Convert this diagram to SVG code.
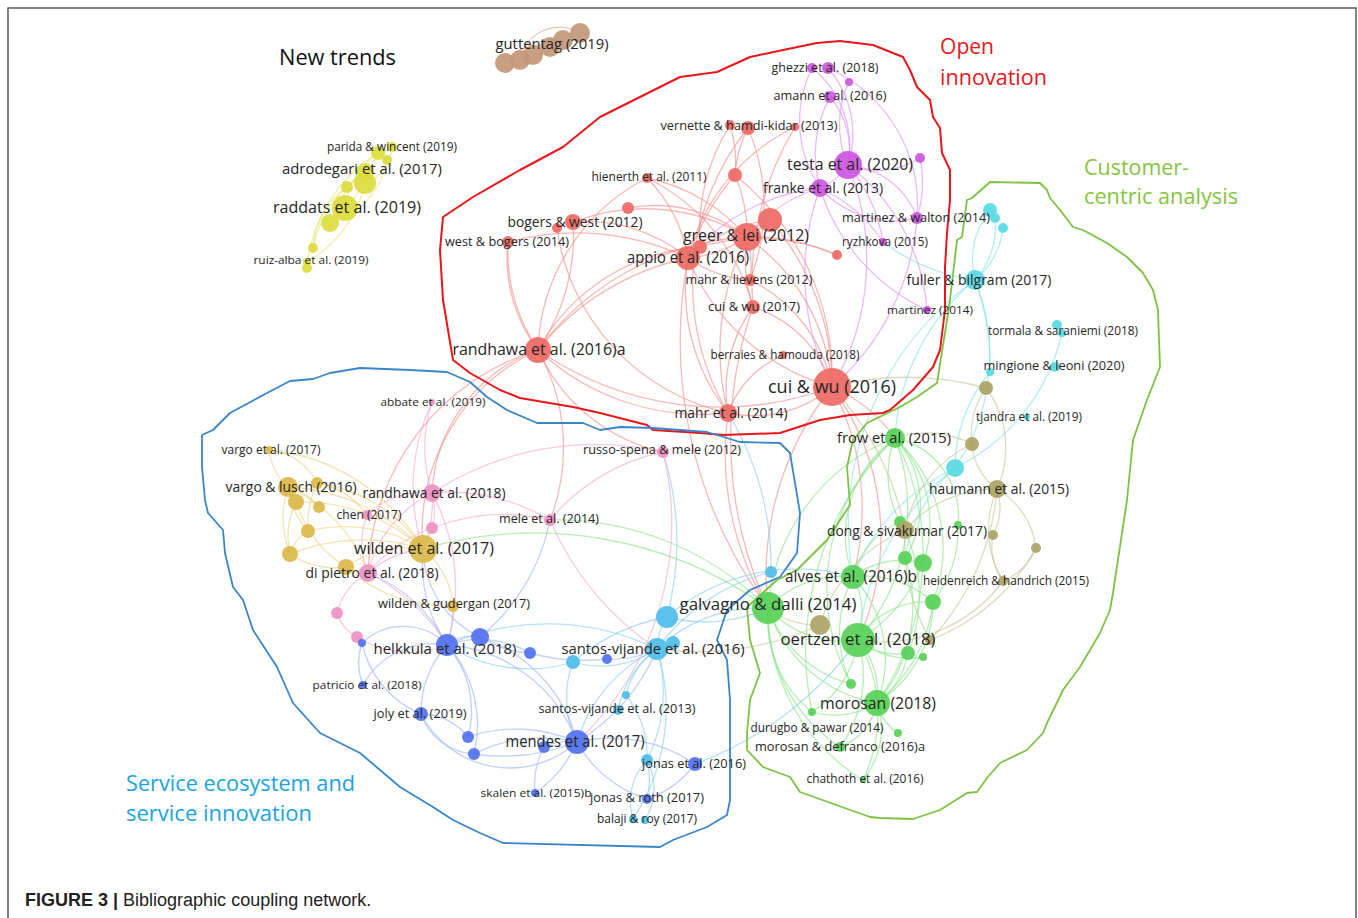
<svg xmlns="http://www.w3.org/2000/svg" width="1358" height="918" viewBox="0 0 1358 918">
<style>
.e path{fill:none;stroke-width:1.3;stroke-opacity:.6}
.er path{stroke:#f28b86}.ep path{stroke:#df8cef}.ec path{stroke:#7fe3ea}.eo path{stroke:#c9c196}
.eg path{stroke:#86e486}.el path{stroke:#84cdee}.eb path{stroke:#9fb0f3}.ek path{stroke:#f2a9cf}
.ed path{stroke:#ecd07e}.ey path{stroke:#e4e46c}.ew path{stroke:#d4a68c}
.lb{font-family:"Open Sans","Liberation Sans",sans-serif;fill:#262626;text-anchor:middle}
.y{fill:#dcdc3e}.w{fill:#c4977a}.r{fill:#ee6a64}.p{fill:#cc56de}.c{fill:#58d9e2}.o{fill:#aba267}
.g{fill:#57d157}.k{fill:#ee92c2}.d{fill:#dbb84a}.b{fill:#5071ef}.l{fill:#4fbde9}
circle{fill-opacity:.92}
.hull{fill:none;stroke-linejoin:round}
.title{font-family:"Open Sans","Liberation Sans",sans-serif;font-size:22px}
</style>
<rect x="0" y="0" width="1358" height="918" fill="#fff"/>
<rect x="8" y="8" width="1348" height="930" fill="none" stroke="#5a5a5a" stroke-width="1.5"/>

<g id="connectors" class="e">
<g class="ey">
<path d="M378,153 A150,150 0 0,0 307,268"/><path d="M392,147 A150,150 0 0,0 330,223"/><path d="M365,172 A120,120 0 0,0 313,248"/>
<path d="M365,183 A120,120 0 0,1 307,262"/><path d="M378,153 A80,80 0 0,0 345,208"/><path d="M387,160 A80,80 0 0,1 330,223"/>
<path d="M365,172 A60,60 0 0,1 345,208"/><path d="M347,187 A80,80 0 0,0 313,248"/><path d="M392,147 A40,40 0 0,1 365,183"/>
</g>
<g class="ew">
<path d="M505,63 A40,40 0 0,1 550,47"/><path d="M520,60 A40,40 0 0,1 580,33"/><path d="M533,55 A40,40 0 0,0 563,40"/>
</g>
<g class="er">
<path d="M538,350 A280,280 0 0,1 747,237"/><path d="M538,350 A260,260 0 0,1 688,258"/><path d="M538,350 A200,200 0 0,0 573,222"/>
<path d="M538,350 A180,180 0 0,1 508,242"/><path d="M538,350 A200,200 0 0,1 647,178"/><path d="M538,350 A320,320 0 0,0 832,387"/>
<path d="M538,350 A240,240 0 0,0 728,413"/><path d="M538,350 A200,200 0 0,1 700,247"/><path d="M538,350 A200,200 0 0,0 423,549"/>
<path d="M538,350 A160,160 0 0,0 432,493"/><path d="M538,350 A180,180 0 0,0 663,452"/><path d="M538,350 A240,240 0 0,0 368,573"/>
<path d="M538,350 A200,200 0 0,1 550,520"/><path d="M508,242 A150,150 0 0,0 538,350"/><path d="M508,242 A260,260 0 0,1 688,258"/>
<path d="M573,222 A200,200 0 0,1 747,237"/><path d="M573,222 A160,160 0 0,1 688,258"/><path d="M557,228 A220,220 0 0,0 728,413"/>
<path d="M628,208 A150,150 0 0,1 747,237"/><path d="M647,178 A150,150 0 0,1 688,258"/><path d="M647,178 A180,180 0 0,1 747,237"/>
<path d="M647,178 A200,200 0 0,1 753,307"/><path d="M735,175 A120,120 0 0,1 748,128"/><path d="M735,175 A120,120 0 0,0 730,125"/>
<path d="M735,175 A150,150 0 0,1 747,237"/><path d="M735,175 A260,260 0 0,1 832,387"/><path d="M735,175 A250,250 0 0,0 688,258"/>
<path d="M748,128 A200,200 0 0,1 750,280"/><path d="M748,128 A250,250 0 0,0 728,413"/><path d="M730,125 A200,200 0 0,0 700,247"/>
<path d="M795,127 A200,200 0 0,0 688,258"/><path d="M795,127 A300,300 0 0,0 753,307"/><path d="M770,220 A120,120 0 0,1 747,237"/>
<path d="M770,220 A150,150 0 0,0 688,258"/><path d="M770,220 A250,250 0 0,1 832,387"/><path d="M747,237 A120,120 0 0,1 688,258"/>
<path d="M747,237 A200,200 0 0,1 832,387"/><path d="M747,237 A100,100 0 0,1 750,280"/><path d="M747,237 A150,150 0 0,0 753,307"/>
<path d="M747,237 A250,250 0 0,0 728,413"/><path d="M747,237 A200,200 0 0,1 837,255"/><path d="M688,258 A220,220 0 0,0 832,387"/>
<path d="M688,258 A200,200 0 0,0 728,413"/><path d="M688,258 A120,120 0 0,0 750,280"/><path d="M700,247 A200,200 0 0,1 837,255"/>
<path d="M753,307 A120,120 0 0,1 832,387"/><path d="M753,307 A140,140 0 0,0 728,413"/><path d="M750,280 A150,150 0 0,1 832,387"/>
<path d="M832,387 A120,120 0 0,1 728,413"/><path d="M783,355 A100,100 0 0,0 728,413"/><path d="M832,387 A150,150 0 0,1 895,438"/>
<path d="M832,387 A300,300 0 0,0 768,608"/><path d="M832,387 A260,260 0 0,1 853,577"/><path d="M832,387 A250,250 0 0,1 858,640"/>
<path d="M728,413 A300,300 0 0,0 768,608"/><path d="M753,307 A400,400 0 0,0 768,608"/><path d="M688,258 A450,450 0 0,0 768,608"/>
</g>
<g class="ep">
<path d="M848,165 A100,100 0 0,0 812,68"/><path d="M848,165 A100,100 0 0,0 828,68"/><path d="M848,165 A100,100 0 0,1 849,82"/>
<path d="M848,165 A80,80 0 0,0 830,97"/><path d="M848,165 A60,60 0 0,1 820,188"/><path d="M848,165 A80,80 0 0,0 920,158"/>
<path d="M848,165 A80,80 0 0,1 917,218"/><path d="M848,165 A200,200 0 0,1 927,310"/><path d="M848,165 A160,160 0 0,1 883,242"/>
<path d="M848,165 A250,250 0 0,1 832,387"/><path d="M820,188 A120,120 0 0,1 812,68"/><path d="M820,188 A120,120 0 0,1 830,97"/>
<path d="M820,188 A100,100 0 0,0 917,218"/><path d="M820,188 A150,150 0 0,1 883,242"/><path d="M820,188 A200,200 0 0,0 927,310"/>
<path d="M820,188 A250,250 0 0,0 832,387"/><path d="M820,188 A150,150 0 0,0 747,237"/><path d="M820,188 A200,200 0 0,0 688,258"/>
<path d="M920,158 A120,120 0 0,1 917,218"/><path d="M917,218 A250,250 0 0,1 832,387"/><path d="M828,68 A150,150 0 0,1 917,218"/>
</g>
<g class="ec">
<path d="M975,280 A80,80 0 0,1 990,210"/><path d="M975,280 A80,80 0 0,0 995,218"/><path d="M975,280 A80,80 0 0,0 1003,228"/>
<path d="M975,280 A200,200 0 0,1 955,468"/><path d="M975,280 A220,220 0 0,0 895,438"/><path d="M883,242 A200,200 0 0,0 975,280"/>
<path d="M1062,333 A200,200 0 0,1 955,468"/><path d="M990,372 A150,150 0 0,0 955,468"/><path d="M975,280 A250,250 0 0,1 990,372"/>
<path d="M955,468 A200,200 0 0,0 853,577"/><path d="M955,468 A250,250 0 0,0 858,640"/><path d="M955,468 A150,150 0 0,0 905,558"/>
<path d="M975,280 A300,300 0 0,0 853,577"/>
</g>
<g class="eo">
<path d="M986,388 A80,80 0 0,0 972,444"/><path d="M986,388 A100,100 0 0,1 997,489"/><path d="M986,388 A300,300 0 0,0 832,387"/>
<path d="M972,444 A60,60 0 0,0 997,489"/><path d="M972,444 A120,120 0 0,0 905,530"/><path d="M972,444 A100,100 0 0,0 895,438"/>
<path d="M997,489 A60,60 0 0,1 993,535"/><path d="M997,489 A80,80 0 0,1 1036,548"/><path d="M997,489 A100,100 0 0,0 1003,581"/>
<path d="M997,489 A120,120 0 0,0 905,530"/><path d="M1036,548 A60,60 0 0,1 1003,581"/><path d="M993,535 A60,60 0 0,0 1003,581"/>
<path d="M1003,581 A150,150 0 0,1 858,640"/><path d="M905,530 A150,150 0 0,0 820,625"/><path d="M820,625 A80,80 0 0,1 768,608"/>
<path d="M820,625 A300,300 0 0,1 657,649"/><path d="M905,530 A200,200 0 0,0 930,640"/><path d="M997,489 A250,250 0 0,1 930,640"/>
<path d="M1036,548 A200,200 0 0,1 930,640"/><path d="M905,530 A300,300 0 0,0 832,387"/>
</g>
<g class="eg">
<path d="M895,438 A120,120 0 0,0 853,577"/><path d="M895,438 A200,200 0 0,0 768,608"/><path d="M895,438 A200,200 0 0,1 858,640"/>
<path d="M895,438 A260,260 0 0,1 877,703"/><path d="M895,438 A100,100 0 0,1 905,558"/><path d="M895,438 A120,120 0 0,1 923,563"/>
<path d="M895,438 A150,150 0 0,1 933,602"/><path d="M895,438 A200,200 0 0,0 851,684"/><path d="M895,438 A300,300 0 0,0 812,712"/>
<path d="M895,438 A80,80 0 0,1 958,525"/><path d="M895,438 A100,100 0 0,0 900,522"/><path d="M853,577 A100,100 0 0,0 768,608"/>
<path d="M853,577 A80,80 0 0,1 858,640"/><path d="M853,577 A120,120 0 0,1 877,703"/><path d="M853,577 A80,80 0 0,1 923,563"/>
<path d="M853,577 A100,100 0 0,1 933,602"/><path d="M853,577 A120,120 0 0,0 851,684"/><path d="M853,577 A80,80 0 0,1 900,522"/>
<path d="M768,608 A100,100 0 0,0 858,640"/><path d="M768,608 A140,140 0 0,0 877,703"/><path d="M768,608 A120,120 0 0,0 851,684"/>
<path d="M768,608 A120,120 0 0,0 812,712"/><path d="M768,608 A200,200 0 0,0 863,780"/><path d="M768,608 A160,160 0 0,0 840,747"/>
<path d="M768,608 A300,300 0 0,0 550,520"/><path d="M768,608 A400,400 0 0,0 423,549"/><path d="M858,640 A80,80 0 0,1 877,703"/>
<path d="M858,640 A60,60 0 0,0 908,653"/><path d="M858,640 A80,80 0 0,0 923,657"/><path d="M858,640 A80,80 0 0,1 933,602"/>
<path d="M858,640 A120,120 0 0,1 840,747"/><path d="M858,640 A100,100 0 0,1 812,712"/><path d="M858,640 A150,150 0 0,1 863,780"/>
<path d="M877,703 A50,50 0 0,0 898,733"/><path d="M877,703 A60,60 0 0,1 840,747"/><path d="M877,703 A80,80 0 0,1 863,780"/>
<path d="M877,703 A80,80 0 0,1 812,712"/><path d="M877,703 A80,80 0 0,0 908,653"/><path d="M877,703 A150,150 0 0,0 933,602"/>
<path d="M900,522 A150,150 0 0,1 908,653"/><path d="M905,558 A150,150 0 0,1 877,703"/><path d="M923,563 A150,150 0 0,1 858,640"/>
<path d="M933,602 A120,120 0 0,1 877,703"/><path d="M958,525 A120,120 0 0,1 933,602"/>
</g>
<g class="el">
<path d="M657,649 A60,60 0 0,1 667,617"/><path d="M657,649 A40,40 0 0,0 673,643"/><path d="M657,649 A100,100 0 0,1 573,662"/>
<path d="M657,649 A80,80 0 0,0 626,695"/><path d="M657,649 A100,100 0 0,0 618,710"/><path d="M657,649 A150,150 0 0,0 577,742"/>
<path d="M657,649 A150,150 0 0,1 647,760"/><path d="M657,649 A200,200 0 0,1 633,819"/><path d="M657,649 A150,150 0 0,1 768,608"/>
<path d="M657,649 A200,200 0 0,1 771,572"/><path d="M657,649 A250,250 0 0,0 447,645"/><path d="M667,617 A150,150 0 0,0 768,608"/>
<path d="M667,617 A200,200 0 0,1 853,577"/><path d="M667,617 A200,200 0 0,0 573,662"/><path d="M667,617 A300,300 0 0,0 663,452"/>
<path d="M573,662 A150,150 0 0,1 447,645"/><path d="M573,662 A100,100 0 0,0 577,742"/><path d="M626,695 A100,100 0 0,1 647,760"/>
<path d="M647,760 A60,60 0 0,1 645,820"/><path d="M647,760 A60,60 0 0,0 633,819"/><path d="M647,760 A80,80 0 0,1 647,799"/>
<path d="M771,572 A300,300 0 0,0 728,413"/><path d="M695,764 A350,350 0 0,0 858,640"/>
</g>
<g class="eb">
<path d="M447,645 A40,40 0 0,1 480,637"/><path d="M447,645 A60,60 0 0,0 362,643"/><path d="M447,645 A80,80 0 0,0 363,685"/>
<path d="M447,645 A100,100 0 0,0 421,714"/><path d="M447,645 A150,150 0 0,1 577,742"/><path d="M447,645 A100,100 0 0,1 468,737"/>
<path d="M447,645 A120,120 0 0,1 474,754"/><path d="M447,645 A100,100 0 0,1 530,653"/><path d="M447,645 A150,150 0 0,1 423,549"/>
<path d="M447,645 A150,150 0 0,0 368,573"/><path d="M447,645 A120,120 0 0,0 453,606"/><path d="M480,637 A100,100 0 0,1 423,549"/>
<path d="M480,637 A150,150 0 0,1 577,742"/><path d="M480,637 A100,100 0 0,0 530,653"/><path d="M480,637 A200,200 0 0,0 550,520"/>
<path d="M530,653 A200,200 0 0,0 607,659"/><path d="M607,659 A100,100 0 0,0 657,649"/><path d="M577,742 A100,100 0 0,1 421,714"/>
<path d="M577,742 A60,60 0 0,0 544,747"/><path d="M577,742 A150,150 0 0,0 468,737"/><path d="M577,742 A150,150 0 0,0 474,754"/>
<path d="M577,742 A150,150 0 0,1 695,764"/><path d="M577,742 A120,120 0 0,0 647,799"/><path d="M577,742 A120,120 0 0,1 535,793"/>
<path d="M577,742 A200,200 0 0,0 657,649"/><path d="M421,714 A60,60 0 0,1 468,737"/><path d="M421,714 A60,60 0 0,0 474,754"/>
<path d="M695,764 A100,100 0 0,1 647,799"/><path d="M535,793 A80,80 0 0,1 544,747"/><path d="M363,685 A60,60 0 0,1 362,643"/>
<path d="M362,643 A100,100 0 0,0 421,714"/><path d="M474,754 A200,200 0 0,0 577,742"/>
</g>
<g class="ek">
<path d="M432,493 A120,120 0 0,1 423,549"/><path d="M432,493 A80,80 0 0,0 367,515"/><path d="M432,493 A60,60 0 0,1 432,528"/>
<path d="M432,493 A120,120 0 0,0 368,573"/><path d="M432,493 A150,150 0 0,1 432,402"/><path d="M432,493 A200,200 0 0,1 550,520"/>
<path d="M432,493 A300,300 0 0,1 663,452"/><path d="M432,493 A200,200 0 0,1 447,645"/><path d="M368,573 A60,60 0 0,0 337,613"/>
<path d="M337,613 A40,40 0 0,0 357,637"/><path d="M368,573 A100,100 0 0,1 423,549"/><path d="M368,573 A80,80 0 0,1 367,515"/>
<path d="M357,637 A100,100 0 0,0 447,645"/><path d="M432,402 A200,200 0 0,0 423,549"/><path d="M550,520 A200,200 0 0,0 432,528"/>
<path d="M550,520 A300,300 0 0,0 657,649"/><path d="M663,452 A300,300 0 0,1 577,742"/><path d="M550,520 A200,200 0 0,1 663,452"/>
<path d="M368,573 A200,200 0 0,1 447,645"/><path d="M432,528 A150,150 0 0,0 368,573"/>
</g>
<g class="ed">
<path d="M269,450 A60,60 0 0,0 288,487"/><path d="M269,450 A60,60 0 0,1 317,483"/><path d="M269,450 A200,200 0 0,1 423,549"/>
<path d="M288,487 A40,40 0 0,0 296,502"/><path d="M288,487 A60,60 0 0,1 319,507"/><path d="M288,487 A200,200 0 0,1 423,549"/>
<path d="M288,487 A80,80 0 0,0 308,531"/><path d="M288,487 A100,100 0 0,0 290,554"/><path d="M288,487 A150,150 0 0,1 368,573"/>
<path d="M317,483 A150,150 0 0,1 423,549"/><path d="M317,483 A80,80 0 0,1 367,515"/><path d="M296,502 A80,80 0 0,0 290,554"/>
<path d="M296,502 A120,120 0 0,0 346,567"/><path d="M296,502 A180,180 0 0,1 423,549"/><path d="M308,531 A40,40 0 0,0 290,554"/>
<path d="M308,531 A150,150 0 0,1 423,549"/><path d="M290,554 A80,80 0 0,0 346,567"/><path d="M290,554 A200,200 0 0,1 423,549"/>
<path d="M346,567 A100,100 0 0,1 423,549"/><path d="M423,549 A80,80 0 0,1 453,606"/><path d="M423,549 A80,80 0 0,0 432,528"/>
<path d="M346,567 A150,150 0 0,0 453,606"/><path d="M317,483 A100,100 0 0,0 308,531"/>
</g>
</g>

<g id="clusters">
<path class="hull" stroke="#e8161b" stroke-width="2" d="M453,360 L443,300 L440,250 L443,217 L473,197 L520,170 L563,147 L600,117 L640,97 L680,77 L717,72 L750,57 L783,50 L817,43 L840,41 L873,45 L903,57 L910,70 L917,87 L930,100 L933,117 L940,128 L942,153 L950,170 L950,200 L947,233 L945,267 L945,310 L940,350 L933,367 L913,390 L890,410 L883,413 L850,415 L820,420 L780,433 L723,435 L700,433 L653,430 L647,425 L600,413 L573,407 L520,398 L500,390 L470,373 Z"/>
<path class="hull" stroke="#3a85c9" stroke-width="1.8" d="M202,435 L213,430 L230,413 L267,393 L290,381 L313,379 L330,373 L360,368 L410,370 L447,372 L470,382 L487,397 L507,410 L537,423 L583,423 L600,430 L620,427 L653,428 L707,432 L740,442 L780,443 L790,453 L800,513 L797,553 L780,577 L750,590 L727,610 L717,640 L727,660 L730,700 L730,800 L727,815 L707,827 L673,840 L660,847 L503,843 L480,833 L453,820 L433,807 L400,787 L360,753 L320,733 L293,703 L277,667 L253,630 L243,600 L233,587 L225,553 L223,530 L208,513 L205,500 L202,467 Z"/>
<path class="hull" stroke="#7dc242" stroke-width="1.8" d="M850,505 L847,467 L853,440 L867,423 L900,407 L917,397 L937,383 L947,320 L950,300 L957,240 L962,237 L967,200 L972,198 L990,182 L1040,183 L1047,190 L1050,198 L1060,210 L1073,227 L1083,230 L1107,243 L1127,257 L1143,273 L1153,290 L1158,310 L1160,367 L1147,400 L1133,440 L1127,500 L1113,593 L1110,610 L1100,633 L1080,667 L1063,690 L1047,723 L1043,733 L1027,750 L1000,763 L987,778 L977,792 L967,793 L940,810 L913,819 L880,818 L870,817 L800,792 L790,777 L763,767 L747,750 L747,733 L750,700 L760,673 L750,640 L747,607 L777,580 L797,570 L827,540 L840,520 Z"/>
</g>

<g id="nodes">
<g id="n-y1"><circle class="y" cx="387" cy="160" r="5"/></g>
<g id="n-y2"><circle class="y" cx="365" cy="172" r="9"/></g>
<g id="n-y3"><circle class="y" cx="347" cy="187" r="6"/></g>
<g id="n-y4"><circle class="y" cx="330" cy="223" r="9"/></g>
<g id="n-y5"><circle class="y" cx="313" cy="248" r="5"/></g>
<g id="n-y6"><circle class="y" cx="378" cy="153" r="7"/></g>
<g id="n-y7"><circle class="y" cx="307" cy="262" r="4"/></g>
<g id="n-w1"><circle class="w" cx="505" cy="63" r="10"/></g>
<g id="n-w2"><circle class="w" cx="520" cy="60" r="10"/></g>
<g id="n-w3"><circle class="w" cx="533" cy="55" r="10"/></g>
<g id="n-w4"><circle class="w" cx="550" cy="47" r="10"/></g>
<g id="n-w5"><circle class="w" cx="563" cy="40" r="10"/></g>
<g id="n-w6"><circle class="w" cx="580" cy="33" r="10"/></g>
<g id="n-r1"><circle class="r" cx="730" cy="125" r="5"/></g>
<g id="n-r2"><circle class="r" cx="795" cy="127" r="4"/></g>
<g id="n-r3"><circle class="r" cx="735" cy="175" r="7"/></g>
<g id="n-r4"><circle class="r" cx="628" cy="208" r="6"/></g>
<g id="n-r5"><circle class="r" cx="770" cy="220" r="12"/></g>
<g id="n-r6"><circle class="r" cx="557" cy="228" r="5"/></g>
<g id="n-r7"><circle class="r" cx="700" cy="247" r="7"/></g>
<g id="n-r8"><circle class="r" cx="837" cy="255" r="5"/></g>
<g id="n-p1"><circle class="p" cx="812" cy="68" r="5"/></g>
<g id="n-p2"><circle class="p" cx="849" cy="82" r="4"/></g>
<g id="n-p3"><circle class="p" cx="920" cy="158" r="5"/></g>
<g id="n-c1"><circle class="c" cx="990" cy="210" r="7"/></g>
<g id="n-c2"><circle class="c" cx="995" cy="218" r="5"/></g>
<g id="n-c3"><circle class="c" cx="1003" cy="228" r="5"/></g>
<g id="n-c4"><circle class="c" cx="1062" cy="333" r="4"/></g>
<g id="n-c5"><circle class="c" cx="990" cy="372" r="4"/></g>
<g id="n-c6"><circle class="c" cx="955" cy="468" r="9"/></g>
<g id="n-o1"><circle class="o" cx="986" cy="388" r="7"/></g>
<g id="n-o2"><circle class="o" cx="972" cy="444" r="7"/></g>
<g id="n-o3"><circle class="o" cx="993" cy="535" r="5"/></g>
<g id="n-o4"><circle class="o" cx="1036" cy="548" r="5"/></g>
<g id="n-o5"><circle class="o" cx="820" cy="625" r="10"/></g>
<g id="n-o6"><circle class="o" cx="930" cy="640" r="5"/></g>
<g id="n-g1"><circle class="g" cx="900" cy="522" r="6"/></g>
<g id="n-g2"><circle class="g" cx="958" cy="525" r="4"/></g>
<g id="n-g3"><circle class="g" cx="905" cy="558" r="7"/></g>
<g id="n-g4"><circle class="g" cx="923" cy="563" r="9"/></g>
<g id="n-g5"><circle class="g" cx="933" cy="602" r="8"/></g>
<g id="n-g6"><circle class="g" cx="908" cy="653" r="7"/></g>
<g id="n-g7"><circle class="g" cx="923" cy="657" r="4"/></g>
<g id="n-g8"><circle class="g" cx="851" cy="684" r="5"/></g>
<g id="n-g9"><circle class="g" cx="898" cy="733" r="4"/></g>
<g id="n-k1"><circle class="k" cx="432" cy="528" r="6"/></g>
<g id="n-k2"><circle class="k" cx="337" cy="613" r="6"/></g>
<g id="n-k3"><circle class="k" cx="357" cy="637" r="6"/></g>
<g id="n-d1"><circle class="d" cx="317" cy="483" r="6"/></g>
<g id="n-d2"><circle class="d" cx="296" cy="502" r="8"/></g>
<g id="n-d3"><circle class="d" cx="319" cy="507" r="6"/></g>
<g id="n-d4"><circle class="d" cx="308" cy="531" r="7"/></g>
<g id="n-d5"><circle class="d" cx="290" cy="554" r="8"/></g>
<g id="n-d6"><circle class="d" cx="346" cy="567" r="8"/></g>
<g id="n-b1"><circle class="b" cx="480" cy="637" r="9"/></g>
<g id="n-b2"><circle class="b" cx="362" cy="643" r="4"/></g>
<g id="n-b3"><circle class="b" cx="530" cy="653" r="6"/></g>
<g id="n-b4"><circle class="b" cx="607" cy="659" r="5"/></g>
<g id="n-b5"><circle class="b" cx="468" cy="737" r="6"/></g>
<g id="n-b6"><circle class="b" cx="474" cy="754" r="6"/></g>
<g id="n-b7"><circle class="b" cx="544" cy="747" r="6"/></g>
<g id="n-l1"><circle class="l" cx="771" cy="572" r="6"/></g>
<g id="n-l2"><circle class="l" cx="667" cy="617" r="11"/></g>
<g id="n-l3"><circle class="l" cx="673" cy="643" r="7"/></g>
<g id="n-l4"><circle class="l" cx="573" cy="662" r="7"/></g>
<g id="n-l5"><circle class="l" cx="626" cy="695" r="4"/></g>
<g id="n-l6"><circle class="l" cx="647" cy="760" r="6"/></g>

<g id="n-parida"><circle class="y" cx="392" cy="147" r="5"/><text class="lb" x="392" y="151" font-size="12" textLength="130" lengthAdjust="spacingAndGlyphs">parida &amp; wincent (2019)</text></g>
<g id="n-adrodegari"><circle class="y" cx="365" cy="183" r="11"/><text class="lb" x="362" y="174" font-size="15" textLength="160" lengthAdjust="spacingAndGlyphs">adrodegari et al. (2017)</text></g>
<g id="n-raddats"><circle class="y" cx="345" cy="208" r="13"/><text class="lb" x="347" y="213" font-size="15.5" textLength="148" lengthAdjust="spacingAndGlyphs">raddats et al. (2019)</text></g>
<g id="n-ruiz-alba"><circle class="y" cx="307" cy="268" r="5"/><text class="lb" x="311" y="264" font-size="11.5" textLength="115" lengthAdjust="spacingAndGlyphs">ruiz-alba et al. (2019)</text></g>
<g id="n-guttentag"><text class="lb" x="552" y="49" font-size="15" textLength="113" lengthAdjust="spacingAndGlyphs">guttentag (2019)</text></g>
<g id="n-ghezzi"><circle class="p" cx="828" cy="68" r="6"/><text class="lb" x="825" y="72" font-size="12" textLength="107" lengthAdjust="spacingAndGlyphs">ghezzi et al. (2018)</text></g>
<g id="n-amann"><circle class="p" cx="830" cy="97" r="6"/><text class="lb" x="830" y="100" font-size="12" textLength="113" lengthAdjust="spacingAndGlyphs">amann et al. (2016)</text></g>
<g id="n-vernette"><circle class="r" cx="748" cy="128" r="7"/><text class="lb" x="749" y="130" font-size="12" textLength="177" lengthAdjust="spacingAndGlyphs">vernette &amp; hamdi-kidar (2013)</text></g>
<g id="n-hienerth"><circle class="r" cx="647" cy="178" r="5"/><text class="lb" x="649" y="181" font-size="12" textLength="115" lengthAdjust="spacingAndGlyphs">hienerth et al. (2011)</text></g>
<g id="n-testa"><circle class="p" cx="848" cy="165" r="14"/><text class="lb" x="850" y="170" font-size="16.5" textLength="126" lengthAdjust="spacingAndGlyphs">testa et al. (2020)</text></g>
<g id="n-franke"><circle class="p" cx="820" cy="188" r="9"/><text class="lb" x="823" y="193" font-size="14" textLength="120" lengthAdjust="spacingAndGlyphs">franke et al. (2013)</text></g>
<g id="n-martinez-walton"><circle class="p" cx="917" cy="218" r="6"/><text class="lb" x="916" y="222" font-size="12.5" textLength="148" lengthAdjust="spacingAndGlyphs">martinez &amp; walton (2014)</text></g>
<g id="n-ryzhkova"><circle class="p" cx="883" cy="242" r="4"/><text class="lb" x="885" y="246" font-size="12" textLength="86" lengthAdjust="spacingAndGlyphs">ryzhkova (2015)</text></g>
<g id="n-bogers-west"><circle class="r" cx="573" cy="222" r="8"/><text class="lb" x="575" y="227" font-size="14" textLength="135" lengthAdjust="spacingAndGlyphs">bogers &amp; west (2012)</text></g>
<g id="n-west-bogers"><circle class="r" cx="508" cy="242" r="6"/><text class="lb" x="507" y="246" font-size="12.5" textLength="124" lengthAdjust="spacingAndGlyphs">west &amp; bogers (2014)</text></g>
<g id="n-greer-lei"><circle class="r" cx="747" cy="237" r="14"/><text class="lb" x="746" y="241" font-size="16" textLength="126" lengthAdjust="spacingAndGlyphs">greer &amp; lei (2012)</text></g>
<g id="n-appio"><circle class="r" cx="688" cy="258" r="12"/><text class="lb" x="688" y="263" font-size="15.5" textLength="122" lengthAdjust="spacingAndGlyphs">appio et al. (2016)</text></g>
<g id="n-mahr-lievens"><circle class="r" cx="750" cy="280" r="6"/><text class="lb" x="749" y="284" font-size="12.5" textLength="127" lengthAdjust="spacingAndGlyphs">mahr &amp; lievens (2012)</text></g>
<g id="n-cui-wu-2017"><circle class="r" cx="753" cy="307" r="7"/><text class="lb" x="754" y="311" font-size="12.5" textLength="92" lengthAdjust="spacingAndGlyphs">cui &amp; wu (2017)</text></g>
<g id="n-fuller"><circle class="c" cx="975" cy="280" r="10"/><text class="lb" x="979" y="285" font-size="14" textLength="145" lengthAdjust="spacingAndGlyphs">fuller &amp; bilgram (2017)</text></g>
<g id="n-martinez"><circle class="p" cx="927" cy="310" r="4"/><text class="lb" x="930" y="314" font-size="11.5" textLength="86" lengthAdjust="spacingAndGlyphs">martinez (2014)</text></g>
<g id="n-randhawa-2016a"><circle class="r" cx="538" cy="350" r="13"/><text class="lb" x="539" y="355" font-size="16" textLength="173" lengthAdjust="spacingAndGlyphs">randhawa et al. (2016)a</text></g>
<g id="n-berraies"><circle class="r" cx="783" cy="355" r="4"/><text class="lb" x="785" y="359" font-size="12" textLength="149" lengthAdjust="spacingAndGlyphs">berraies &amp; hamouda (2018)</text></g>
<g id="n-cui-wu-2016"><circle class="r" cx="832" cy="387" r="19"/><text class="lb" x="832" y="393" font-size="17.5" textLength="128" lengthAdjust="spacingAndGlyphs">cui &amp; wu (2016)</text></g>
<g id="n-mahr"><circle class="r" cx="728" cy="413" r="9"/><text class="lb" x="731" y="418" font-size="14" textLength="113" lengthAdjust="spacingAndGlyphs">mahr et al. (2014)</text></g>
<g id="n-tormala"><circle class="c" cx="1057" cy="325" r="5"/><text class="lb" x="1063" y="335" font-size="12" textLength="150" lengthAdjust="spacingAndGlyphs">tormala &amp; saraniemi (2018)</text></g>
<g id="n-mingione"><circle class="c" cx="1055" cy="367" r="5"/><text class="lb" x="1054" y="370" font-size="13" textLength="141" lengthAdjust="spacingAndGlyphs">mingione &amp; leoni (2020)</text></g>
<g id="n-tjandra"><circle class="c" cx="1027" cy="417" r="3"/><text class="lb" x="1029" y="421" font-size="12" textLength="106" lengthAdjust="spacingAndGlyphs">tjandra et al. (2019)</text></g>
<g id="n-abbate"><circle class="k" cx="432" cy="402" r="3"/><text class="lb" x="433" y="406" font-size="11.5" textLength="105" lengthAdjust="spacingAndGlyphs">abbate et al. (2019)</text></g>
<g id="n-russo-spena"><circle class="k" cx="663" cy="452" r="6"/><text class="lb" x="662" y="454" font-size="13" textLength="158" lengthAdjust="spacingAndGlyphs">russo-spena &amp; mele (2012)</text></g>
<g id="n-frow"><circle class="g" cx="895" cy="438" r="10"/><text class="lb" x="894" y="443" font-size="15" textLength="114" lengthAdjust="spacingAndGlyphs">frow et al. (2015)</text></g>
<g id="n-vargo-2017"><circle class="d" cx="269" cy="450" r="4"/><text class="lb" x="271" y="454" font-size="12" textLength="99" lengthAdjust="spacingAndGlyphs">vargo et al. (2017)</text></g>
<g id="n-haumann"><circle class="o" cx="997" cy="489" r="9"/><text class="lb" x="999" y="494" font-size="14" textLength="140" lengthAdjust="spacingAndGlyphs">haumann et al. (2015)</text></g>
<g id="n-vargo-lusch"><circle class="d" cx="288" cy="487" r="10"/><text class="lb" x="291" y="492" font-size="15" textLength="131" lengthAdjust="spacingAndGlyphs">vargo &amp; lusch (2016)</text></g>
<g id="n-randhawa-2018"><circle class="k" cx="432" cy="493" r="9"/><text class="lb" x="434" y="498" font-size="14" textLength="143" lengthAdjust="spacingAndGlyphs">randhawa et al. (2018)</text></g>
<g id="n-chen"><circle class="k" cx="367" cy="515" r="5"/><text class="lb" x="369" y="519" font-size="12" textLength="65" lengthAdjust="spacingAndGlyphs">chen (2017)</text></g>
<g id="n-mele"><circle class="k" cx="550" cy="520" r="6"/><text class="lb" x="549" y="523" font-size="12" textLength="100" lengthAdjust="spacingAndGlyphs">mele et al. (2014)</text></g>
<g id="n-dong"><circle class="o" cx="905" cy="530" r="9"/><text class="lb" x="907" y="536" font-size="14" textLength="160" lengthAdjust="spacingAndGlyphs">dong &amp; sivakumar (2017)</text></g>
<g id="n-wilden"><circle class="d" cx="423" cy="549" r="14"/><text class="lb" x="424" y="554" font-size="16" textLength="140" lengthAdjust="spacingAndGlyphs">wilden et al. (2017)</text></g>
<g id="n-di-pietro"><circle class="k" cx="368" cy="573" r="9"/><text class="lb" x="372" y="578" font-size="14" textLength="133" lengthAdjust="spacingAndGlyphs">di pietro et al. (2018)</text></g>
<g id="n-alves"><circle class="g" cx="853" cy="577" r="12"/><text class="lb" x="851" y="582" font-size="16" textLength="132" lengthAdjust="spacingAndGlyphs">alves et al. (2016)b</text></g>
<g id="n-heidenreich"><circle class="o" cx="1003" cy="581" r="5"/><text class="lb" x="1006" y="585" font-size="12" textLength="166" lengthAdjust="spacingAndGlyphs">heidenreich &amp; handrich (2015)</text></g>
<g id="n-galvagno"><circle class="g" cx="768" cy="608" r="16"/><text class="lb" x="768" y="610" font-size="16.5" textLength="177" lengthAdjust="spacingAndGlyphs">galvagno &amp; dalli (2014)</text></g>
<g id="n-wilden-gudergan"><circle class="d" cx="453" cy="606" r="6"/><text class="lb" x="454" y="608" font-size="12.5" textLength="152" lengthAdjust="spacingAndGlyphs">wilden &amp; gudergan (2017)</text></g>
<g id="n-oertzen"><circle class="g" cx="858" cy="640" r="17"/><text class="lb" x="858" y="645" font-size="16.5" textLength="155" lengthAdjust="spacingAndGlyphs">oertzen et al. (2018)</text></g>
<g id="n-helkkula"><circle class="b" cx="447" cy="645" r="11"/><text class="lb" x="445" y="654" font-size="15" textLength="143" lengthAdjust="spacingAndGlyphs">helkkula et al. (2018)</text></g>
<g id="n-santos-2016"><circle class="l" cx="657" cy="649" r="11"/><text class="lb" x="653" y="654" font-size="15" textLength="183" lengthAdjust="spacingAndGlyphs">santos-vijande et al. (2016)</text></g>
<g id="n-patricio"><circle class="b" cx="363" cy="685" r="4"/><text class="lb" x="367" y="689" font-size="11.5" textLength="109" lengthAdjust="spacingAndGlyphs">patricio et al. (2018)</text></g>
<g id="n-morosan"><circle class="g" cx="877" cy="703" r="13"/><text class="lb" x="878" y="709" font-size="16" textLength="116" lengthAdjust="spacingAndGlyphs">morosan (2018)</text></g>
<g id="n-santos-2013"><circle class="l" cx="618" cy="710" r="5"/><text class="lb" x="617" y="713" font-size="12.5" textLength="157" lengthAdjust="spacingAndGlyphs">santos-vijande et al. (2013)</text></g>
<g id="n-joly"><circle class="b" cx="421" cy="714" r="7"/><text class="lb" x="420" y="718" font-size="12" textLength="93" lengthAdjust="spacingAndGlyphs">joly et al. (2019)</text></g>
<g id="n-durugbo"><circle class="g" cx="812" cy="712" r="4"/><text class="lb" x="817" y="732" font-size="12.5" textLength="133" lengthAdjust="spacingAndGlyphs">durugbo &amp; pawar (2014)</text></g>
<g id="n-mendes"><circle class="b" cx="577" cy="742" r="12"/><text class="lb" x="575" y="747" font-size="15.5" textLength="139" lengthAdjust="spacingAndGlyphs">mendes et al. (2017)</text></g>
<g id="n-morosan-defranco"><circle class="g" cx="840" cy="747" r="5"/><text class="lb" x="840" y="751" font-size="13" textLength="170" lengthAdjust="spacingAndGlyphs">morosan &amp; defranco (2016)a</text></g>
<g id="n-jonas-2016"><circle class="b" cx="695" cy="764" r="7"/><text class="lb" x="694" y="768" font-size="13" textLength="104" lengthAdjust="spacingAndGlyphs">jonas et al. (2016)</text></g>
<g id="n-chathoth"><circle class="g" cx="863" cy="780" r="3"/><text class="lb" x="865" y="783" font-size="12" textLength="117" lengthAdjust="spacingAndGlyphs">chathoth et al. (2016)</text></g>
<g id="n-skalen"><circle class="b" cx="535" cy="793" r="4"/><text class="lb" x="536" y="797" font-size="11.5" textLength="111" lengthAdjust="spacingAndGlyphs">skalen et al. (2015)b</text></g>
<g id="n-jonas-roth"><circle class="b" cx="647" cy="799" r="5"/><text class="lb" x="647" y="802" font-size="13" textLength="114" lengthAdjust="spacingAndGlyphs">jonas &amp; roth (2017)</text></g>
<g id="n-balaji"><circle class="l" cx="633" cy="819" r="4"/><circle class="l" cx="645" cy="820" r="4"/><text class="lb" x="647" y="823" font-size="12" textLength="100" lengthAdjust="spacingAndGlyphs">balaji &amp; roy (2017)</text></g>
</g>

<g id="region-labels">
<text class="title" x="279" y="65" fill="#111" textLength="117" lengthAdjust="spacingAndGlyphs">New trends</text>
<text class="title" x="940" y="54" fill="#e8161b" textLength="54" lengthAdjust="spacingAndGlyphs">Open</text>
<text class="title" x="940" y="85" fill="#e8161b" textLength="107" lengthAdjust="spacingAndGlyphs">innovation</text>
<text class="title" x="1084" y="175" fill="#86c440" textLength="105" lengthAdjust="spacingAndGlyphs">Customer-</text>
<text class="title" x="1084" y="204" fill="#86c440" textLength="154" lengthAdjust="spacingAndGlyphs">centric analysis</text>
<text class="title" x="126" y="791" fill="#1aa3e0" textLength="229" lengthAdjust="spacingAndGlyphs">Service ecosystem and</text>
<text class="title" x="126" y="821" fill="#1aa3e0" textLength="186" lengthAdjust="spacingAndGlyphs">service innovation</text>
</g>

<g id="caption">
<text x="25" y="906" font-family="Liberation Sans, Arial, sans-serif" font-size="18" fill="#222"><tspan font-weight="bold">FIGURE 3 |</tspan> Bibliographic coupling network.</text>
</g>
</svg>
